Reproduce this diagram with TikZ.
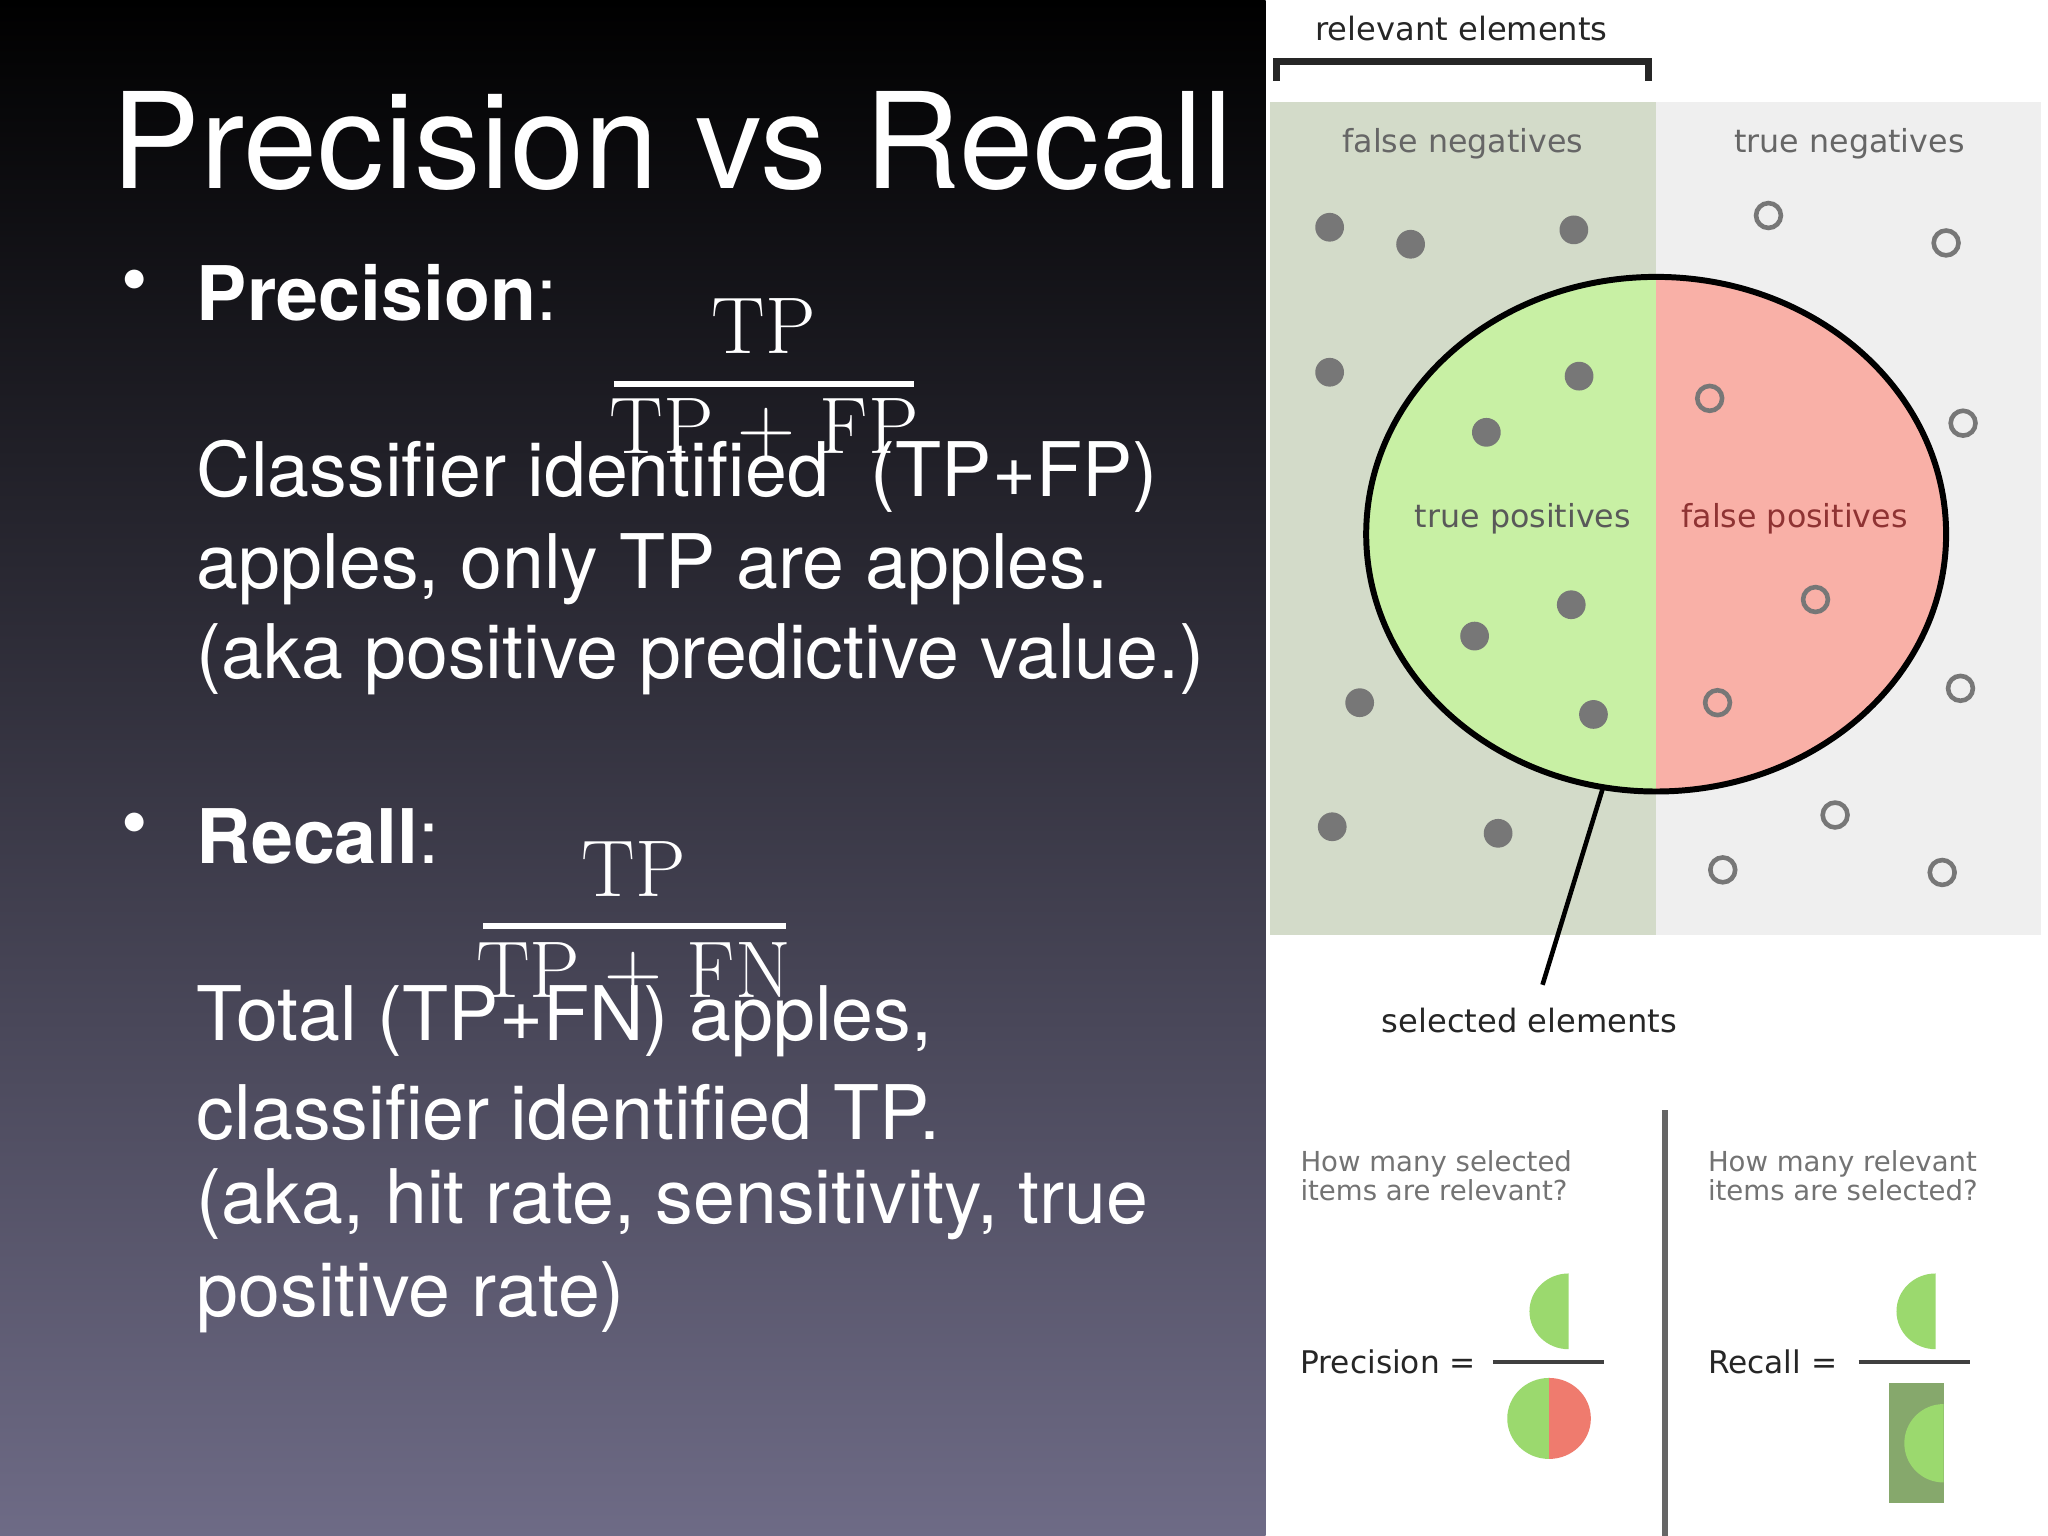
\documentclass[tikz,border=0pt]{standalone}
\usepackage{fontspec}
\setmainfont{TeX Gyre Heros}
\newfontfamily\dv{DejaVu Sans}
\newfontfamily\lmr{Latin Modern Roman}
\definecolor{fnbg}{HTML}{D3DBC9}
\definecolor{tnbg}{HTML}{EFEFEF}
\definecolor{tpfill}{HTML}{C8F0A4}
\definecolor{fpfill}{HTML}{F9B0A7}
\definecolor{dotc}{HTML}{777777}
\definecolor{gg}{HTML}{9BD96E}
\definecolor{rr}{HTML}{EF7B6E}
\definecolor{dg}{HTML}{86A86C}
\definecolor{bot}{HTML}{6E6B86}
\definecolor{mid}{HTML}{1E1E3C}
\tikzset{
  body/.style={anchor=west,inner sep=0pt,text=white,font=\fontsize{16.4pt}{20pt}\selectfont},
  fracnum/.style={text=white,font=\lmr\fontsize{17.5pt}{20pt}\selectfont},
  lab/.style={text=black!60,font=\dv\fontsize{6.9pt}{8pt}\selectfont},
  q/.style={anchor=west,inner sep=0pt,align=left,text=black!55,font=\dv\fontsize{6.0pt}{6.3pt}\selectfont},
  eqn/.style={anchor=west,inner sep=0pt,text=black!85,font=\dv\fontsize{6.8pt}{8pt}\selectfont},
  fdot/.style={circle,fill=dotc,inner sep=0pt,minimum size=0.22cm},
  odot/.style={circle,draw=dotc,line width=1pt,fill=none,inner sep=0pt,minimum size=0.19cm},
}
\begin{document}
\begin{tikzpicture}[x=0.01cm,y=-0.01cm]
\useasboundingbox (0,0) rectangle (1568,1176);
\shade[top color=black,middle color=mid,bottom color=bot] (0,0) rectangle (969,1176);
\fill[white] (969,0) rectangle (1568,1176);
% left
\node[anchor=west,inner sep=0pt,text=white,font=\fontsize{29pt}{34pt}\selectfont] (title) at (85,108) {Precision vs Recall};
\node[text=white,font=\fontsize{16.4pt}{20pt}\selectfont] (b1) at (103,220) {•};
\node[body] (p) at (150,224) {\textbf{Precision}:};
\node[fracnum] (pn) at (585,250) {TP};
\draw[white,line width=1.2pt] (470,294) -- (700,294);
\node[fracnum] (pd) at (585,328) {TP + FP};
\node[body] (l1) at (150,365) {Classifier identified \ (TP+FP)};
\node[body] (l2) at (150,436) {apples, only TP are apples.};
\node[body] (l3) at (150,505) {(aka positive predictive value.)};
\node[text=white,font=\fontsize{16.4pt}{20pt}\selectfont] (b2) at (103,636) {•};
\node[body] (r) at (150,640) {\textbf{Recall}:};
\node[fracnum] (rn) at (485,665) {TP};
\draw[white,line width=1.2pt] (370,709) -- (602,709);
\node[fracnum] (rd) at (485,745) {TP + FN};
\node[body] (m1) at (150,782) {Total (TP+FN) apples,};
\node[body] (m2) at (150,852) {classifier identified TP.};
\node[body] (m3) at (150,922) {(aka, hit rate, sensitivity, true};
\node[body] (m4) at (150,993) {positive rate)};
% right panel
\node[text=black!85,font=\dv\fontsize{7pt}{8pt}\selectfont] (rel) at (1119,22) {relevant elements};
\draw[black!85,line width=1.5pt] (977,62) -- (977,47) -- (1262,47) -- (1262,62);
\fill[fnbg] (972,78) rectangle (1268,716);
\fill[tnbg] (1268,78) rectangle (1563,716);
\begin{scope}
\clip (972,0) rectangle (1268,800);
\fill[tpfill] (1268,409) ellipse [x radius=222,y radius=197];
\end{scope}
\begin{scope}
\clip (1268,0) rectangle (1568,800);
\fill[fpfill] (1268,409) ellipse [x radius=222,y radius=197];
\end{scope}
\draw[black,line width=1.3pt] (1268,409) ellipse [x radius=222,y radius=197];
\node[lab] (fn) at (1120,110) {false negatives};
\node[lab] (tn) at (1416,110) {true negatives};
\node[lab,text=black!65] (tp) at (1166,397) {true positives};
\node[lab,text=red!45!black!80] (fp) at (1374,397) {false positives};
\foreach \x/\y [count=\i] in {1018/174,1080/187,1205/176,1018/285,1209/288,1138/331,1203/463,1129/487,1041/538,1220/547,1020/633,1147/638}
  \node[fdot] (f\i) at (\x,\y) {};
\foreach \x/\y [count=\i] in {1354/165,1490/186,1309/305,1503/324,1390/459,1315/538,1501/527,1405/624,1319/666,1487/668}
  \node[odot] (o\i) at (\x,\y) {};
\coordinate (selA) at (1227,604);
\node[text=black!85,font=\dv\fontsize{7pt}{8pt}\selectfont] (sel) at (1171,781) {selected elements};
\draw[black,line width=1pt] (selA) -- (1181,754);
\draw[black!60,line width=1.3pt] (1275,850) -- (1275,1176);
\node[q] (q1) at (995,900) {How many selected\\items are relevant?};
\node[q] (q2) at (1307,900) {How many relevant\\items are selected?};
\node[eqn] (pe) at (995,1043) {Precision =};
\draw[black!75,line width=0.8pt] (1143,1043) -- (1228,1043);
\fill[gg] (1201,975) arc (270:90:30 and 29) -- cycle;
\fill[gg] (1186,1055) arc (270:90:32 and 31) -- cycle;
\fill[rr] (1186,1055) arc (270:450:32 and 31) -- cycle;
\node[eqn] (re) at (1307,1043) {Recall =};
\draw[black!75,line width=0.8pt] (1423,1043) -- (1508,1043);
\fill[gg] (1482,975) arc (270:90:30 and 29) -- cycle;
\fill[dg] (1446,1059) rectangle (1488,1151);
\fill[gg] (1488,1075) arc (270:90:30 and 30) -- cycle;
\end{tikzpicture}
\end{document}
